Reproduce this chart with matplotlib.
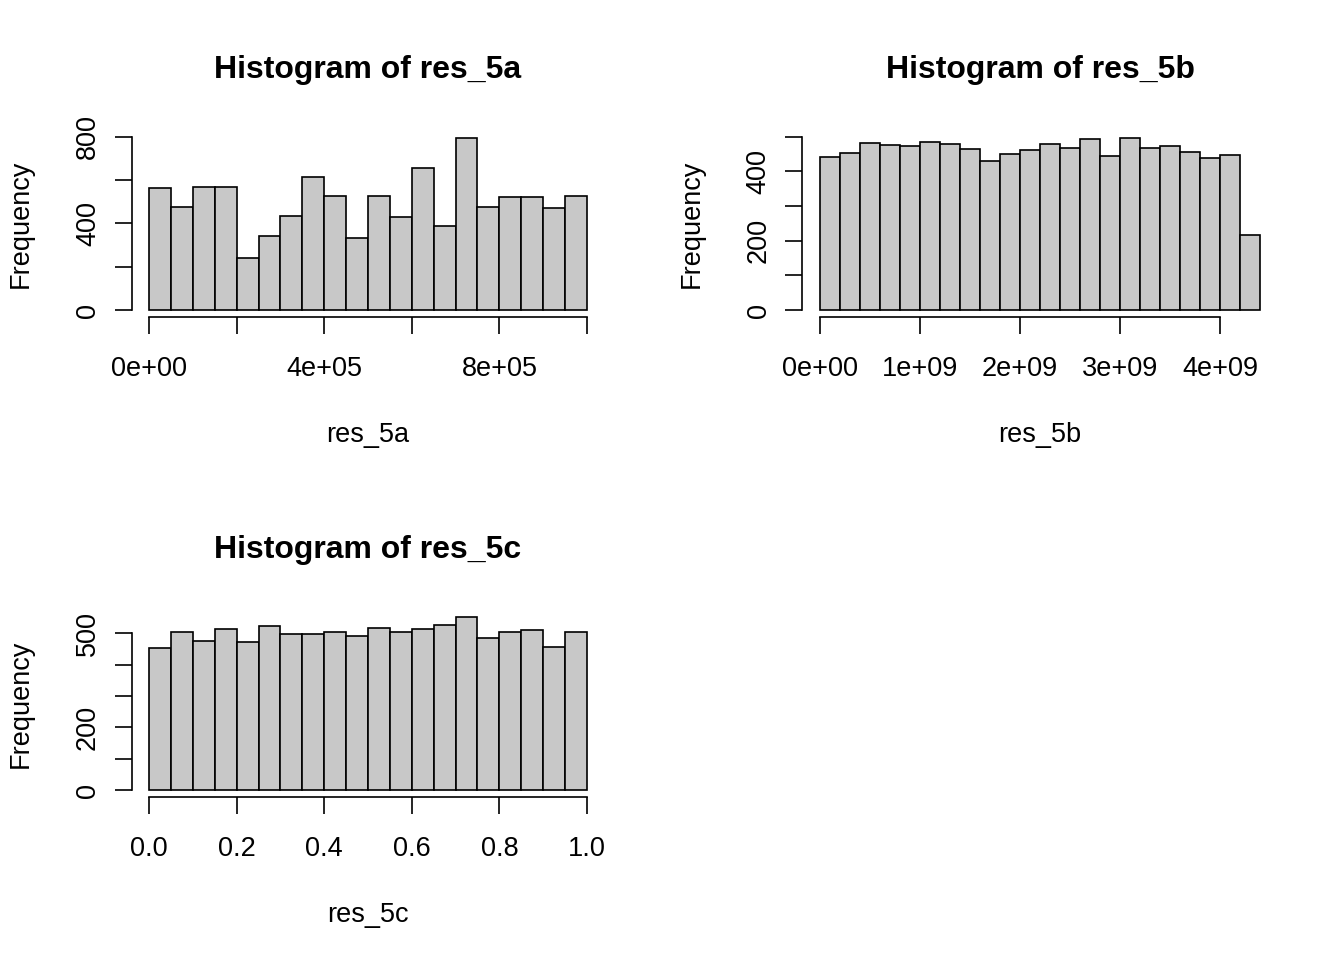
import numpy as np
import matplotlib
matplotlib.use("Agg")
import matplotlib.pyplot as plt
from matplotlib import rcParams

rcParams["font.family"] = ["Liberation Sans", "DejaVu Sans"]

# counts
counts_5a = [564, 476, 566, 567, 239, 343, 434, 613, 528, 335,
             525, 431, 655, 387, 795, 476, 523, 523, 471, 525]
breaks_5a = np.linspace(0, 1e6, 21)

counts_5b = [441, 452, 481, 475, 473, 485, 479, 465, 429, 450, 461,
             477, 468, 492, 443, 496, 466, 472, 456, 439, 448, 216]
breaks_5b = np.linspace(0, 4.4e9, 23)

counts_5c = [453, 505, 477, 513, 472, 525, 498, 498, 503, 491,
             517, 504, 514, 527, 551, 484, 503, 511, 456, 504]
breaks_5c = np.linspace(0, 1, 21)

panels = [
    dict(name="res_5a", counts=counts_5a, breaks=breaks_5a,
         xticks=[0, 2e5, 4e5, 6e5, 8e5, 1e6],
         xlabels=["0e+00", "", "4e+05", "", "8e+05", ""],
         yticks=[0, 200, 400, 600, 800], ylabels=["0", "", "400", "", "800"],
         pos=(131.5, 131, 604.5, 317)),
    dict(name="res_5b", counts=counts_5b, breaks=breaks_5b,
         xticks=[0, 1e9, 2e9, 3e9, 4e9],
         xlabels=["0e+00", "1e+09", "2e+09", "3e+09", "4e+09"],
         yticks=[0, 100, 200, 300, 400, 500], ylabels=["0", "", "200", "", "400", ""],
         pos=(802.4, 131, 1277.6, 317)),
    dict(name="res_5c", counts=counts_5c, breaks=breaks_5c,
         xticks=[0, 0.2, 0.4, 0.6, 0.8, 1.0],
         xlabels=["0.0", "0.2", "0.4", "0.6", "0.8", "1.0"],
         yticks=[0, 100, 200, 300, 400, 500], ylabels=["0", "", "200", "", "", "500"],
         pos=(131.5, 610.5, 604.5, 797)),
]

W, H = 1344, 960
fig = plt.figure(figsize=(W / 100, H / 100), dpi=100)

for p in panels:
    x0, y0, x1, y1 = p["pos"]
    ax = fig.add_axes([x0 / W, 1 - y1 / H, (x1 - x0) / W, (y1 - y0) / H])
    br = p["breaks"]
    ax.bar(br[:-1], p["counts"], width=np.diff(br), align="edge",
           color="#c8c8c8", edgecolor="black", linewidth=1.2)
    xr = br[-1] - br[0]
    ax.set_xlim(br[0] - 0.04 * xr, br[-1] + 0.04 * xr)
    ym = max(p["counts"])
    ax.set_ylim(-0.04 * ym, 1.04 * ym)

    for s in ["top", "right"]:
        ax.spines[s].set_visible(False)
    ax.spines["left"].set_bounds(p["yticks"][0], p["yticks"][-1])
    ax.spines["bottom"].set_bounds(p["xticks"][0], p["xticks"][-1])
    for s in ["left", "bottom"]:
        ax.spines[s].set_linewidth(1.2)

    ax.set_xticks(p["xticks"])
    ax.set_xticklabels(p["xlabels"])
    ax.set_yticks(p["yticks"])
    ax.set_yticklabels(p["ylabels"], rotation=90, va="center")
    ax.tick_params(axis="both", length=12, width=1.2, labelsize=19.5)
    ax.tick_params(axis="x", pad=16.3)
    ax.tick_params(axis="y", pad=10)

    ax.set_title("Histogram of " + p["name"], fontsize=23,
                 fontweight="bold", pad=38)
    ax.set_xlabel(p["name"], fontsize=19.5, labelpad=28.3)
    ax.set_ylabel("Frequency", fontsize=19.5, labelpad=29.3)

fig.savefig("out.png", dpi=100)
